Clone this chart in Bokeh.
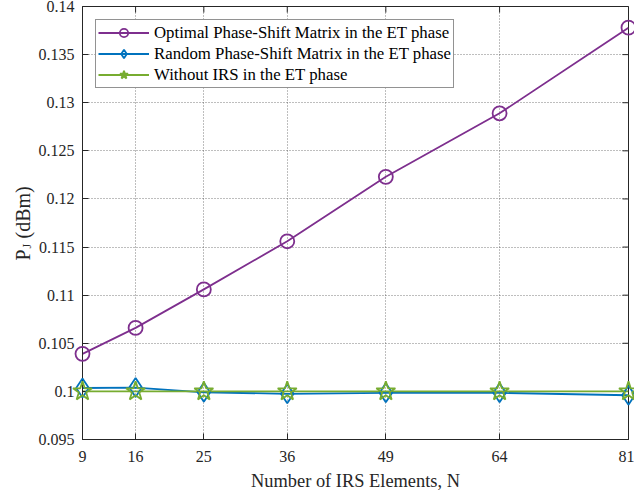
from bokeh.plotting import figure
from bokeh.models import Range1d, FixedTicker, Legend, LegendItem, CustomJSTickFormatter
from bokeh.core.properties import value
from bokeh.embed import file_html
from bokeh.resources import INLINE
import math

# ---- data ----
N = [9, 16, 25, 36, 49, 64, 81]
optimal = [0.1039, 0.1066, 0.1106, 0.1156, 0.1223, 0.1289, 0.1378]
random_ps = [0.10035, 0.10040, 0.09990, 0.09975, 0.09985, 0.09985, 0.09960]
without_irs = [0.1000, 0.1000, 0.1000, 0.1000, 0.1000, 0.1000, 0.1000]
x_ticks = [9, 16, 25, 36, 49, 64, 81]
y_ticks = [0.095, 0.1, 0.105, 0.11, 0.115, 0.12, 0.125, 0.13, 0.135, 0.14]
series_names = ["Optimal Phase-Shift Matrix in the ET phase",
                "Random Phase-Shift Matrix in the ET phase",
                "Without IRS in the ET phase"]
y_label_parts = ["P", "J", "(dBm)"]

FONT = "Liberation Serif"
AX = "#262626"
PURPLE = "#7E2F8E"
BLUE = "#0072BD"
GREEN = "#77AC30"

W, H = 634, 493
ML, MR, MT, MB = 82, 6, 6, 54
X0, X1 = 9, 81
Y0, Y1 = 0.095, 0.14
FW, FH = W - ML - MR, H - MT - MB

p = figure(width=W, height=H, output_backend="svg", toolbar_location=None,
           x_range=Range1d(X0, X1), y_range=Range1d(Y0, Y1),
           min_border_left=ML, min_border_right=MR, min_border_top=MT, min_border_bottom=MB)
p.background_fill_color = "white"
p.border_fill_color = "white"
p.outline_line_color = AX
p.outline_line_width = 1

fmt = CustomJSTickFormatter(code="return String(parseFloat(tick.toFixed(4)));")

p.xaxis.ticker = FixedTicker(ticks=x_ticks)
p.yaxis.ticker = FixedTicker(ticks=y_ticks)
p.yaxis.formatter = fmt
for ax in p.xaxis + p.yaxis:
    ax.axis_line_color = AX
    ax.major_tick_line_color = AX
    ax.major_tick_in = 6
    ax.major_tick_out = 0
    ax.minor_tick_line_color = None
    ax.major_label_text_font = FONT
    ax.major_label_text_color = AX
    ax.major_label_text_font_size = "16px"
p.xaxis.major_label_standoff = 11
p.yaxis.major_label_standoff = 8
p.xaxis.axis_label = "Number of IRS Elements, N"
p.xaxis.axis_label_text_font = FONT
p.xaxis.axis_label_text_font_size = "18.4px"
p.xaxis.axis_label_text_font_style = "normal"
p.xaxis.axis_label_text_color = AX
p.xaxis.axis_label_standoff = 6

p.xgrid.ticker = FixedTicker(ticks=x_ticks)
p.ygrid.ticker = FixedTicker(ticks=y_ticks)
for g in (p.xgrid[0], p.ygrid[0]):
    g.grid_line_color = "#262626"
    g.grid_line_alpha = 0.6
    g.grid_line_dash = "1 2"
    g.grid_line_width = 1

# mirrored inward ticks on top and right edges (outer half of a dash marker is clipped)
p.scatter(x_ticks, [Y1] * len(x_ticks), marker="dash", size=12, angle=math.pi / 2,
          line_color=AX, line_width=1)
p.scatter([X1] * len(y_ticks), y_ticks, marker="dash", size=12,
          line_color=AX, line_width=1)

LW = 1.8
l1 = p.line(N, optimal, line_color=PURPLE, line_width=LW)
l2 = p.line(N, random_ps, line_color=BLUE, line_width=LW)
l3 = p.line(N, without_irs, line_color=GREEN, line_width=LW)
m1 = p.scatter(N, optimal, marker="circle", size=14, fill_color=None,
               line_color=PURPLE, line_width=1.8, level="overlay")
m2 = p.scatter(N, random_ps, marker="diamond", size=19, fill_color=None,
               line_color=BLUE, line_width=1.8, level="overlay")
m3 = p.scatter(N, without_irs, marker="star", size=20, fill_color=None,
               line_color=GREEN, line_width=1.8, level="overlay")

legend = Legend(items=[LegendItem(label=series_names[0], renderers=[l1, m1]),
                       LegendItem(label=series_names[1], renderers=[l2, m2]),
                       LegendItem(label=series_names[2], renderers=[l3, m3])],
                location="top_left")
legend.margin = 13
legend.padding = 2
legend.spacing = 0
legend.glyph_width = 51
legend.glyph_height = 21
legend.label_height = 21
legend.label_standoff = 5
legend.label_text_font = FONT
legend.label_text_font_size = "16.8px"
legend.label_text_color = "#000000"
legend.border_line_color = AX
legend.border_line_width = 1
legend.background_fill_color = "white"
legend.background_fill_alpha = 1
p.add_layout(legend)

# y-axis label "P_J (dBm)" left of the frame (offsets in px from the frame's bottom-left)
def dx(px):
    return X0 + px * (X1 - X0) / FW

def dy(px):
    return Y0 + px * (Y1 - Y0) / FH

offsets = [(-60, 179, "20px"), (-56, 191, "12px"), (-60, 201, "20px")]
for txt, (ox, oy, fs) in zip(y_label_parts, offsets):
    p.text(x=[dx(ox)], y=[dy(oy)], text=[txt], angle=math.pi / 2,
           text_font=value(FONT), text_font_size=value(fs), text_color=AX,
           text_align="left", text_baseline="alphabetic", level="overlay")

open("out.html", "w").write(file_html(p, INLINE))
